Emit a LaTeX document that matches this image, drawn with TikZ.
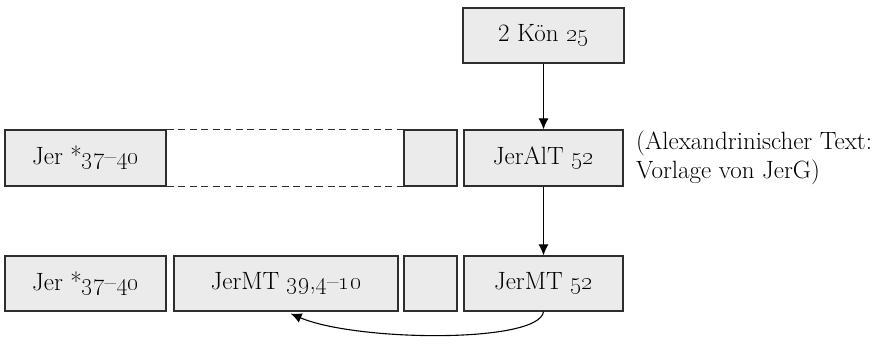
\documentclass[tikz,border=0pt]{standalone}
\usetikzlibrary{arrows.meta}
\definecolor{boxfill}{HTML}{EBEBEB}
\definecolor{edge}{HTML}{2E2E2E}
\begin{document}
\begin{tikzpicture}[x=1pt,y=-1pt,
  box/.style={draw=edge,fill=boxfill,line width=1.2pt,inner sep=0pt,minimum height=55pt,
     font=\fontsize{25}{29}\selectfont},
  conn/.style={line width=1.1pt,-{Latex[length=11pt,width=10pt]}},
  dashline/.style={draw=edge,line width=1.2pt,dash pattern=on 7pt off 4.5pt}]
\useasboundingbox (0,0) rectangle (878,343);
\node[box,minimum width=161pt] (kon) at (543.5,35.5) {2 Kön \oldstylenums{25}};
\node[box,minimum width=161pt,minimum height=56pt] (jerA) at (85.5,158) {Jer *\oldstylenums{37}--\oldstylenums{40}};
\node[box,minimum width=53pt,minimum height=56pt] (smA) at (430.5,158) {};
\node[box,minimum width=159pt,minimum height=56pt] (alt) at (543.5,158) {JerAlT \oldstylenums{52}};
\node[anchor=north west,align=left,inner sep=0pt,font=\fontsize{25}{29}\selectfont] (note) at (636,131)
  {(Alexandrinischer Text:\\Vorlage von JerG)};
\draw[dashline] (jerA.north east) -- (smA.north west);
\draw[dashline] (jerA.south east) -- (smA.south west);
\node[box,minimum width=161pt] (jerB) at (85.5,283.5) {Jer *\oldstylenums{37}--\oldstylenums{40}};
\node[box,minimum width=224pt] (mt39) at (286,283.5) {JerMT \oldstylenums{39},\oldstylenums{4}--\oldstylenums{10}};
\node[box,minimum width=53pt] (smB) at (430.5,283.5) {};
\node[box,minimum width=159pt] (mt52) at (543.5,283.5) {JerMT \oldstylenums{52}};
\draw[conn] (kon) -- (alt);
\draw[conn] (alt) -- (mt52);
\draw[conn,shorten >=5pt] (mt52.south) .. controls +(-4,32) and +(70,30) .. (mt39.south);
\end{tikzpicture}
\end{document}
